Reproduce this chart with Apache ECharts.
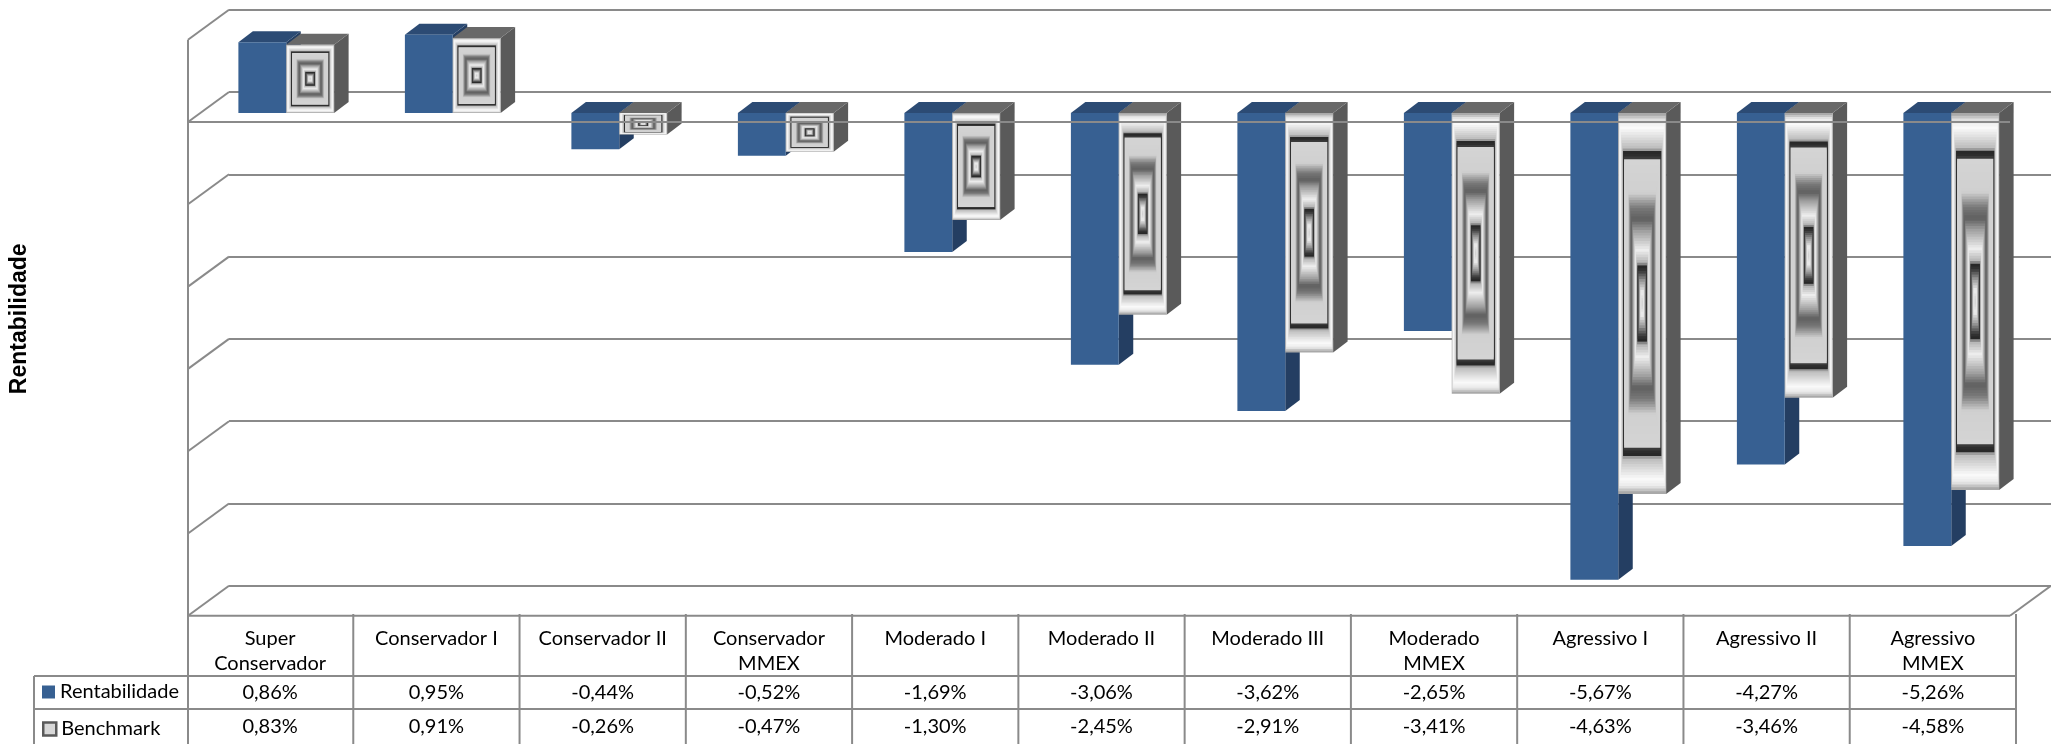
<!DOCTYPE html>
<html><head><meta charset="utf-8">
<script src="https://cdn.jsdelivr.net/npm/echarts@6/dist/echarts.min.js"></script>
<style>html,body{margin:0;padding:0;background:#fff}#c{width:2051px;height:744px}</style>
</head><body><div id="c"></div>
<script>
// ---------- data ----------
const categories = ['Super\nConservador','Conservador I','Conservador II','Conservador\nMMEX','Moderado I','Moderado II','Moderado III','Moderado\nMMEX','Agressivo I','Agressivo II','Agressivo\nMMEX'];
const rentabilidade = [0.86, 0.95, -0.44, -0.52, -1.69, -3.06, -3.62, -2.65, -5.67, -4.27, -5.26];
const benchmark     = [0.83, 0.91, -0.26, -0.47, -1.30, -2.45, -2.91, -3.41, -4.63, -3.46, -4.58];
const seriesNames = ['Rentabilidade', 'Benchmark'];
const axisMin = -6, axisMax = 1, axisStep = 1;

// ---------- layout / style ----------
const PX = 82.3;                    // pixels per 1 %
const H = (axisMax - axisMin) * PX;
const DX = -41, DY = 30;            // back wall -> front edge
const BDX = 14.5, BDY = -11;        // bar box depth
const BAR_FRAC = 48 / 167;
const LINE = '#8a8a8a';
const FONT = 'Lato';
const LEG_X = 34;                   // left border of the legend column
const ticks = [];
for (let v = axisMin; v <= axisMax + 1e-9; v += axisStep) ticks.push(v);

const fmt = v => v.toFixed(2).replace('.', ',') + '%';

const grayStops = [
  [0.00,155],[0.04,232],[0.08,250],[0.19,185],[0.205,40],[0.235,50],[0.25,212],
  [0.42,208],[0.50,120],[0.56,95],[0.62,160],[0.72,238],[0.79,175],[0.80,35],
  [0.83,55],[0.88,150],[0.94,238],[1.00,205]
];
function grayAt(t){
  for (let k = 1; k < grayStops.length; k++){
    if (t <= grayStops[k][0]){
      const a = grayStops[k-1], b = grayStops[k];
      const f = (t - a[0]) / (b[0] - a[0]);
      const g = Math.round(a[1] + (b[1]-a[1]) * f);
      return 'rgb(' + g + ',' + g + ',' + g + ')';
    }
  }
  const g = grayStops[grayStops.length-1][1];
  return 'rgb(' + g + ',' + g + ',' + g + ')';
}

const faceColors = [
  {front:'#376092', top:'#2c4b74', side:'#243e62'},
  {front:null,      top:'#686868', side:'#5a5a5a'}
];

function barRender(sIdx){
  return function(params, api){
    const i = api.value(0), v = api.value(1);
    const c = api.coord([i, 0]), e = api.coord([i, v]);
    const band = api.size([1, 0])[0];
    const w = band * BAR_FRAC;
    const x0 = sIdx === 0 ? c[0] - w : c[0];
    const x1 = x0 + w;
    const yT = Math.min(c[1], e[1]), yB = Math.max(c[1], e[1]);
    const h = yB - yT;
    const col = faceColors[sIdx];
    const children = [];
    children.push({type:'polygon', shape:{points:[[x1,yT],[x1+BDX,yT+BDY],[x1+BDX,yB+BDY],[x1,yB]]}, style:{fill:col.side}});
    children.push({type:'polygon', shape:{points:[[x0,yT],[x1,yT],[x1+BDX,yT+BDY],[x0+BDX,yT+BDY]]}, style:{fill:col.top}});
    if (col.front){
      children.push({type:'rect', shape:{x:x0, y:yT, width:w, height:h}, style:{fill:col.front}});
    } else {
      const N = 70;
      for (let k = 0; k < N; k++){
        const t = k / N;
        const ix = t * w / 2, iy = t * h / 2;
        children.push({type:'rect', shape:{x:x0+ix, y:yT+iy, width:w-2*ix, height:h-2*iy},
          style:{fill:grayAt(t + 0.5/N)}});
      }
    }
    return {type:'group', children};
  };
}

function frameRender(params, api){
  const cs = params.coordSys;
  const xl = cs.x, xr = cs.x + cs.width;
  const yb = v => api.coord([0, v])[1];
  const ls = {stroke: LINE, lineWidth: 2};
  const ch = [];
  ch.push({type:'line', shape:{x1:xl+DX, y1:yb(axisMax)+DY, x2:xl+DX, y2:744}, style:ls});
  ticks.forEach(v => ch.push({type:'line', shape:{x1:xl+DX, y1:yb(v)+DY, x2:xl, y2:yb(v)}, style:ls}));
  ch.push({type:'line', shape:{x1:xl+DX, y1:yb(0)+DY, x2:xr+DX, y2:yb(0)+DY}, style:ls});
  ch.push({type:'line', shape:{x1:xl+DX, y1:yb(axisMin)+DY, x2:xr+DX, y2:yb(axisMin)+DY}, style:ls});
  ch.push({type:'line', shape:{x1:xr+DX, y1:yb(axisMin)+DY, x2:xr, y2:yb(axisMin)}, style:ls});
  return {type:'group', children: ch};
}

function tableRender(params, api){
  const i = api.value(0);
  const cs = params.coordSys;
  const top = cs.y;
  const xc = api.coord([i, 0])[0];
  const bw = api.size([1, 0])[0];
  const xl = xc - bw/2, xr = xc + bw/2;
  const yH = top + 62, y1 = top + 95, yEnd = 744;
  const ls = {stroke: LINE, lineWidth: 2};
  const ts = {fontFamily: FONT, fontSize: 20, fill: '#000', align: 'center'};
  const ch = [];
  ch.push({type:'line', shape:{x1:xr, y1:top, x2:xr, y2:yEnd}, style:ls});
  const lx = i === 0 ? LEG_X : xl;
  ch.push({type:'line', shape:{x1:lx, y1:yH, x2:xr, y2:yH}, style:ls});
  ch.push({type:'line', shape:{x1:lx, y1:y1, x2:xr, y2:y1}, style:ls});
  if (i === 0) ch.push({type:'line', shape:{x1:LEG_X, y1:yH, x2:LEG_X, y2:yEnd}, style:ls});
  ch.push({type:'text', style:Object.assign({x:xc, y:top+12, text:categories[i], verticalAlign:'top', lineHeight:25}, ts)});
  ch.push({type:'text', style:Object.assign({x:xc, y:(yH+y1)/2, text:fmt(rentabilidade[i]), verticalAlign:'middle'}, ts)});
  ch.push({type:'text', style:Object.assign({x:xc, y:(y1+yEnd)/2, text:fmt(benchmark[i]), verticalAlign:'middle'}, ts)});
  return {type:'group', children: ch};
}

const chart = echarts.init(document.getElementById('c'), null, {renderer:'canvas'});
const catIdx = categories.map((_, i) => i);
const hidden = {axisLine:{show:false}, axisTick:{show:false}, axisLabel:{show:false}, splitLine:{show:false}};
const legendText = {fontFamily:FONT, fontSize:20, color:'#000'};

chart.setOption({
  animation: false,
  backgroundColor: '#fff',
  grid: [
    {left: 229, top: 92 - PX, width: 1829, height: H},
    {left: 197.5, top: 113 - PX, width: 1837, height: H},
    {left: 187, top: 614, width: 1829, height: 130}
  ],
  xAxis: [
    Object.assign({type:'category', data:catIdx, gridIndex:0}, hidden),
    Object.assign({type:'category', data:catIdx, gridIndex:1}, hidden),
    Object.assign({type:'category', data:catIdx, gridIndex:2}, hidden)
  ],
  yAxis: [
    {type:'value', gridIndex:0, min:axisMin, max:axisMax, interval:axisStep,
     axisLine:{show:false}, axisTick:{show:false}, axisLabel:{show:false},
     splitLine:{show:true, lineStyle:{color:LINE, width:2}}},
    Object.assign({type:'value', gridIndex:1, min:axisMin, max:axisMax, interval:axisStep,
     name:'Rentabilidade', nameLocation:'middle', nameRotate:90, nameGap:172,
     nameTextStyle:{fontFamily:'Liberation Sans', fontWeight:'bold', fontSize:23, color:'#000'}}, hidden),
    Object.assign({type:'value', gridIndex:2, min:0, max:1}, hidden)
  ],
  legend: [
    {left:42, top:682, itemWidth:13, itemHeight:13, selectedMode:false, padding:0,
     textStyle:legendText,
     data:[{name:seriesNames[0], icon:'rect', itemStyle:{color:'#376092'}}]},
    {left:42, top:719, itemWidth:13, itemHeight:13, selectedMode:false, padding:0,
     textStyle:legendText,
     data:[{name:seriesNames[1], icon:'rect', itemStyle:{color:'#d8d8d8', borderColor:'#5a5a5a', borderWidth:2.5}}]}
  ],
  series: [
    {type:'custom', name:seriesNames[0], xAxisIndex:1, yAxisIndex:1, z:2,
     itemStyle:{color:'#376092'}, renderItem: barRender(0),
     data: rentabilidade.map((v, i) => [i, v])},
    {type:'custom', name:seriesNames[1], xAxisIndex:1, yAxisIndex:1, z:3,
     itemStyle:{color:'#bbbbbb'}, renderItem: barRender(1),
     data: benchmark.map((v, i) => [i, v])},
    {type:'custom', name:'frame', xAxisIndex:0, yAxisIndex:0, z:5, silent:true,
     renderItem: frameRender, data:[[0, 0]]},
    {type:'custom', name:'table', xAxisIndex:2, yAxisIndex:2, z:5, silent:true,
     renderItem: tableRender, data: catIdx.map(i => [i, 0])}
  ]
});
</script>
</body></html>
